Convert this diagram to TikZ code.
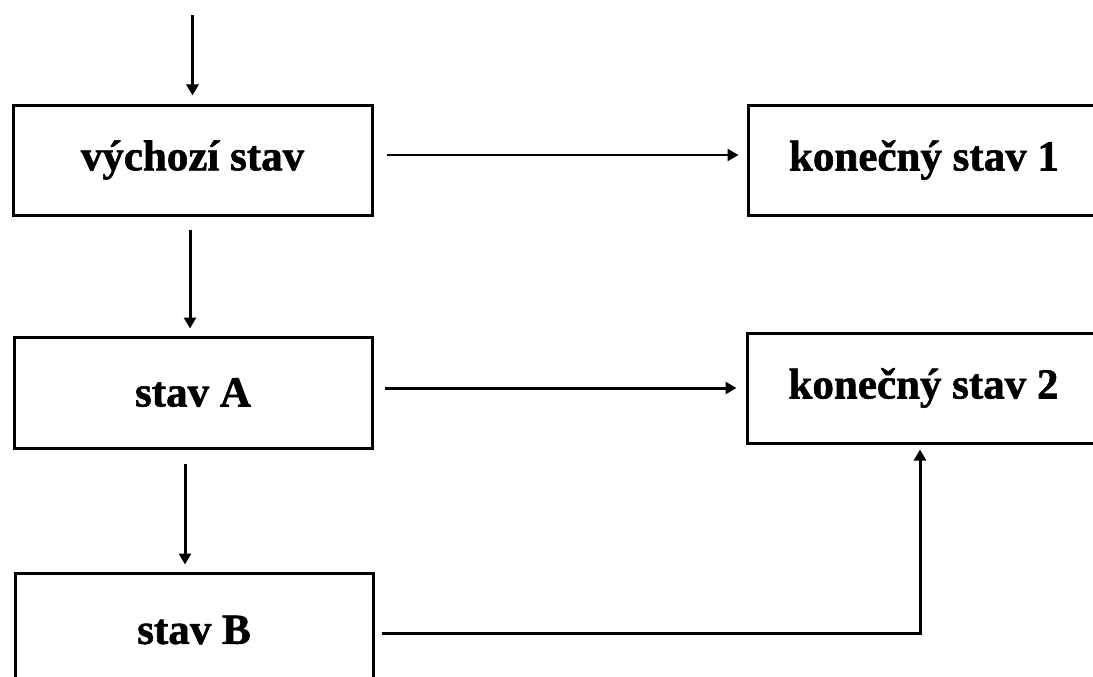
\documentclass[tikz,border=0pt]{standalone}
\usepackage{fontspec}
\setmainfont{Liberation Serif}[BoldFeatures={FakeBold=1.3}]
\usetikzlibrary{arrows.meta,calc}
\begin{document}
\begin{tikzpicture}[x=1pt,y=-1pt,
  box/.style={draw,line width=3pt,inner sep=0pt,font=\fontsize{43}{50}\selectfont\bfseries},
  arr/.style={line width=3pt,-{Triangle[length=11pt,width=12pt]}}]
\clip (0,0) rectangle (1093,677);
\fill[white] (0,0) rectangle (1093,677);
\node[box,minimum width=359pt,minimum height=110pt] (v) at (192.5,160) {výchozí stav};
\node[box,minimum width=352pt,minimum height=110pt] (k1) at (924,160) {konečný stav 1};
\node[box,minimum width=358pt,minimum height=111pt] (A) at (193,392.5) {stav A};
\node[box,minimum width=353pt,minimum height=110pt] (k2) at (923.5,388) {konečný stav 2};
\node[box,minimum width=358pt,minimum height=114pt] (B) at (194,630) {stav B};
\coordinate (top) at (192.5,15);
\draw[arr] (top) -- ([yshift=8pt]v.north);
\draw[arr] ([xshift=-2.5pt,yshift=-13pt]v.south) -- ([xshift=-3pt,yshift=7pt]A.north);
\draw[arr] ([xshift=-8pt,yshift=-14pt]A.south) -- ([xshift=-9pt,yshift=7pt]B.north);
\draw[arr,line width=2.4pt] ([xshift=13pt,yshift=5pt]v.east) -- ([xshift=-8pt,yshift=5pt]k1.west);
\draw[arr] ([xshift=11pt,yshift=4.5pt]A.east) -- ([xshift=-9pt,yshift=0pt]k2.west);
\draw[arr] ([xshift=7pt,yshift=-3pt]B.east) -| ([xshift=-3.5pt,yshift=-5pt]k2.south);
\end{tikzpicture}
\end{document}
